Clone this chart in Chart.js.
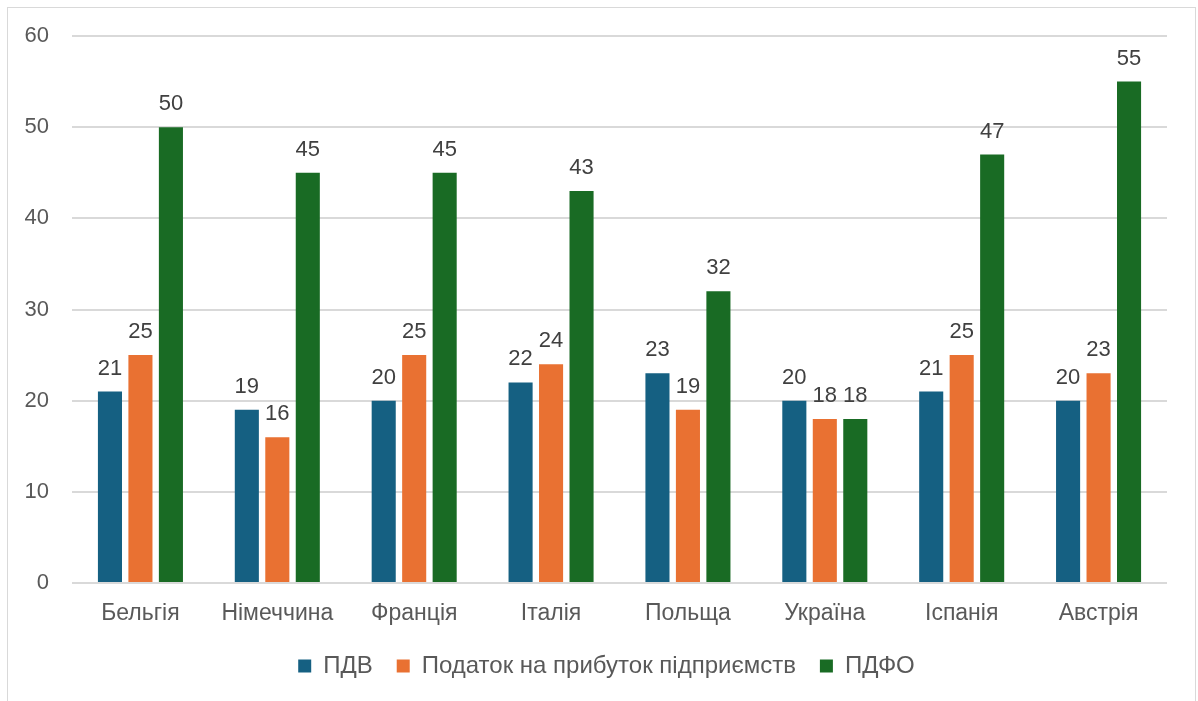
<!DOCTYPE html>
<html><head><meta charset="utf-8">
<script src="https://cdn.jsdelivr.net/npm/chart.js@4.4.1/dist/chart.umd.min.js"></script>
<style>
html,body{margin:0;padding:0;background:#fff;overflow:hidden;}
#frame{position:absolute;left:7px;top:7px;width:1187px;height:720px;border:1px solid #d9d9d9;border-bottom:none;}
#wrap{position:absolute;left:0;top:0;width:1187px;height:693px;}
</style></head>
<body>
<div id="frame"><div id="wrap"><canvas id="c"></canvas></div></div>
<script>
const categories = ["Бельгія","Німеччина","Франція","Італія","Польща","Україна","Іспанія","Австрія"];
const seriesNames = ["ПДВ","Податок на прибуток підприємств","ПДФО"];
const vat = [21,19,20,22,23,20,21,20];
const cit = [25,16,25,24,19,18,25,23];
const pit = [50,45,45,43,32,18,47,55];
const yTicks = [0,10,20,30,40,50,60];
const colors = ["#156082","#E97132","#196B24"];
const FONT = "'Liberation Sans', Arial, sans-serif";

const labelPlugin = {
  id:'dl',
  afterDatasetsDraw(chart){
    const ctx = chart.ctx;
    ctx.save();
    ctx.font = "22px " + FONT;
    ctx.fillStyle = "#404040";
    ctx.textAlign = "center";
    ctx.textBaseline = "alphabetic";
    chart.data.datasets.forEach((ds,i)=>{
      const meta = chart.getDatasetMeta(i);
      meta.data.forEach((bar,j)=>{
        ctx.fillText(String(ds.data[j]), bar.x, bar.y - 17);
      });
    });
    ctx.restore();
  }
};

new Chart(document.getElementById('c'),{
  type:'bar',
  data:{
    labels:categories,
    datasets:[
      {label:seriesNames[0],data:vat,backgroundColor:colors[0]},
      {label:seriesNames[1],data:cit,backgroundColor:colors[1]},
      {label:seriesNames[2],data:pit,backgroundColor:colors[2]}
    ]
  },
  options:{
    responsive:true,maintainAspectRatio:false,animation:false,
    layout:{padding:{left:10,right:0,top:28,bottom:13}},
    datasets:{bar:{categoryPercentage:0.668,barPercentage:0.79}},
    plugins:{
      legend:{position:'bottom',labels:{boxWidth:13,boxHeight:13,padding:24,color:'#595959',font:{family:FONT,size:24}}},
      tooltip:{enabled:false}
    },
    scales:{
      x:{grid:{display:false},border:{display:false},
         ticks:{color:'#595959',font:{family:FONT,size:23},padding:9},
         afterFit(s){s.height=47;s.paddingLeft=0;s.paddingRight=28;}},
      y:{min:0,max:60,afterBuildTicks(s){s.ticks=yTicks.map(v=>({value:v}));},
         grid:{color:'#d9d9d9',lineWidth:2,drawTicks:false},border:{display:false},
         ticks:{color:'#595959',font:{family:FONT,size:22},padding:23},
         afterFit(s){s.width=54;s.paddingTop=0;s.paddingBottom=0;}}
    }
  },
  plugins:[labelPlugin]
});
</script>
</body></html>
